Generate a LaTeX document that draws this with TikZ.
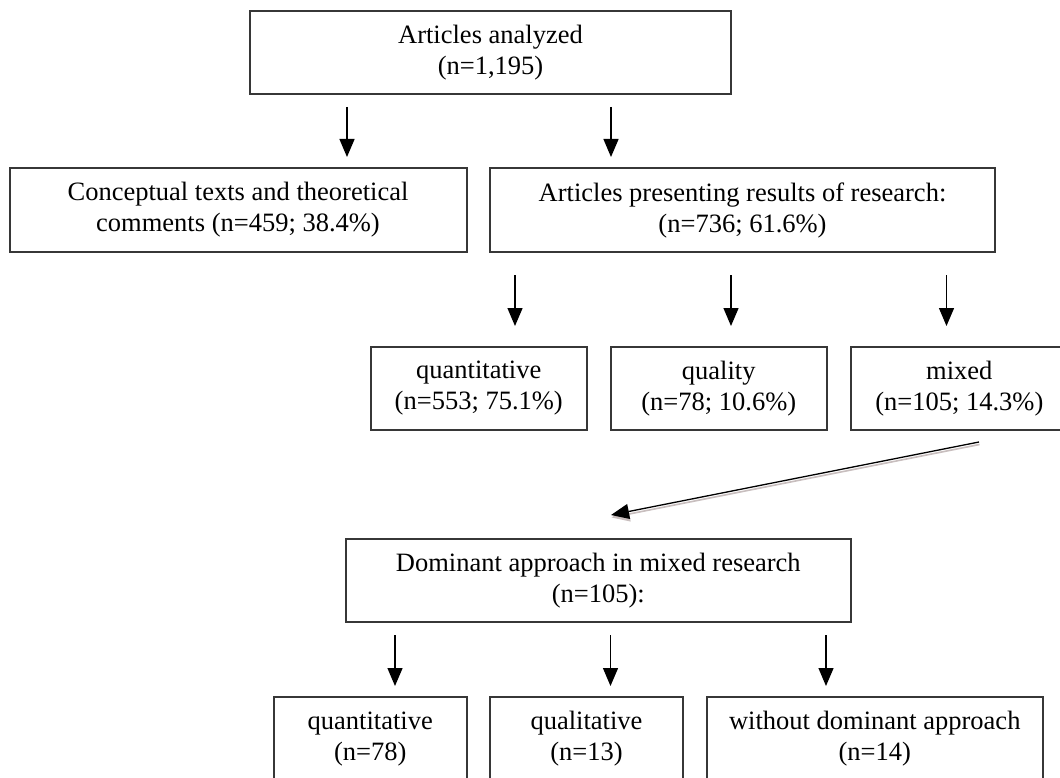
\documentclass[tikz,border=0pt]{standalone}
\usepackage{fontspec}
\setmainfont{Liberation Serif}
\usetikzlibrary{arrows.meta}
\definecolor{boxline}{RGB}{55,55,55}
\definecolor{shadowgray}{RGB}{200,190,190}
\tikzset{
  flowbox/.style={draw=boxline, line width=2pt, rectangle, inner sep=0pt, align=center,
    font=\fontsize{26.5}{31}\selectfont, text=black},
  arr/.style={-{Triangle[width=15pt,length=18pt]}, line width=1.3pt, draw=black},
  shadowarr/.style={-{Triangle[width=15pt,length=18pt]}, line width=1.6pt, draw=shadowgray, fill=shadowgray},
}
\begin{document}
\begin{tikzpicture}[x=1pt,y=-1pt]
\useasboundingbox (0,0) rectangle (1060,778);
\fill[white] (0,0) rectangle (1060,778);
\clip (0,0) rectangle (1060,778);
% boxes
\node[flowbox, minimum width=481pt, minimum height=83pt] (top) at (490.5,52.5) {Articles analyzed\\(n=1,195)};
\node[flowbox, minimum width=457pt, minimum height=84pt] (concept) at (238,210) {Conceptual texts and theoretical\\comments (n=459; 38.4\%)};
\node[flowbox, minimum width=505pt, minimum height=84pt] (results) at (742.5,210) {Articles presenting results of research:\\(n=736; 61.6\%)};
\node[flowbox, minimum width=216.5pt, minimum height=83pt] (quant) at (478.75,388.5) {quantitative\\(n=553; 75.1\%)};
\node[flowbox, minimum width=216.5pt, minimum height=83pt] (qual) at (718.75,388.5) {quality\\(n=78; 10.6\%)};
\node[flowbox, minimum width=217.5pt, minimum height=83pt] (mixed) at (959.35,388.5) {mixed\\(n=105; 14.3\%)};
\node[flowbox, minimum width=504.6pt, minimum height=83pt] (dom) at (598.3,580.5) {Dominant approach in mixed research\\(n=105):};
\node[flowbox, minimum width=192.5pt, minimum height=84pt] (bquant) at (370.25,739) {quantitative\\(n=78)};
\node[flowbox, minimum width=193pt, minimum height=84pt] (bqual) at (586.5,739) {qualitative\\(n=13)};
\node[flowbox, minimum width=336.5pt, minimum height=84pt] (bnone) at (874.75,739) {without dominant approach\\(n=14)};
% arrow end points
\coordinate (a1s) at (347,107);   \coordinate (a1e) at (347,157);
\coordinate (a2s) at (611,107);   \coordinate (a2e) at (611,157);
\coordinate (b1s) at (515,275);   \coordinate (b1e) at (515,326);
\coordinate (b2s) at (731,275);   \coordinate (b2e) at (731,326);
\coordinate (b3s) at (946.5,275); \coordinate (b3e) at (946.5,326);
\coordinate (ds) at (979,442);    \coordinate (de) at (611,515);
\coordinate (c1s) at (395,635);   \coordinate (c1e) at (395,686);
\coordinate (c2s) at (610.5,635); \coordinate (c2e) at (610.5,686);
\coordinate (c3s) at (826,635);   \coordinate (c3e) at (826,686);
% arrows
\draw[arr] (a1s) -- (a1e);
\draw[arr] (a2s) -- (a2e);
\draw[arr] (b1s) -- (b1e);
\draw[arr] (b2s) -- (b2e);
\draw[arr] (b3s) -- (b3e);
\draw[shadowarr] ([shift={(0.5,2.5)}]ds) -- ([shift={(0.5,2.5)}]de);
\draw[arr] (ds) -- (de);
\draw[arr] (c1s) -- (c1e);
\draw[arr] (c2s) -- (c2e);
\draw[arr] (c3s) -- (c3e);
\end{tikzpicture}
\end{document}
